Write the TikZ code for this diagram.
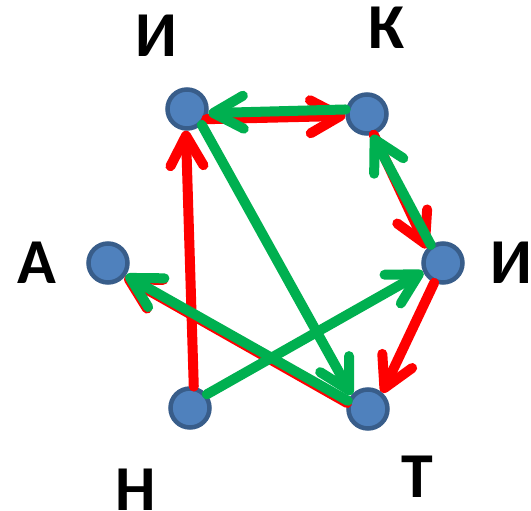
\documentclass[tikz,border=0pt]{standalone}
\usepackage{fontspec}
\setmainfont{Carlito}
\usetikzlibrary{arrows.meta}
\definecolor{RedL}  {HTML}{FF0000}
\definecolor{Green} {HTML}{00B050}
\definecolor{Blue}  {HTML}{4F81BD}
\definecolor{BlueD} {HTML}{385D8A}
\tikzset{
  vtx/.style={
    circle, draw=BlueD, fill=Blue,
    line width=4.5pt, minimum size=39pt, inner sep=0pt,
  },
  ltr/.style={
    font=\fontsize{64}{64}\selectfont\bfseries, inner sep=0pt,
  },
  arr/.style={
    -{Straight Barb[length=30pt,width=33pt,round]},
    line width=10pt, draw=#1, line cap=round,
  },
}
\begin{document}
\begin{tikzpicture}[x=1pt,y=1pt]
  \useasboundingbox[fill=white] (0,0) rectangle (531,511);

  % vertices
  \foreach \nm/\x/\y in {i1/187/402, k/367/397, i2/443/248,
                         t/368/102, n/190/103, a/108/248}{
    \node[vtx] (\nm) at (\x,\y) {};
  }

  % letters
  \foreach \nm/\txt/\x/\y in {li1/И/156/475, lk/К/387/483, li2/И/511/248,
                              lt/Т/417/34, ln/Н/136/21, la/А/37/248}{
    \node[ltr] (\nm) at (\x,\y) {\txt};
  }

  % red path
  \foreach \s/\e in {n.80/i1.-93, i1.-28/k.185, k.-72/i2.137,
                     i2.-114/t.49, t.164/a.-40}{
    \draw[arr=RedL] (\s) -- (\e);
  }

  % green path
  \foreach \s/\e in {n.39/i2.204, i2.124/k.-76, k.168/i1.-11,
                     i1.-47/t.139, t.158/a.-35}{
    \draw[arr=Green] (\s) -- (\e);
  }

\end{tikzpicture}
\end{document}
